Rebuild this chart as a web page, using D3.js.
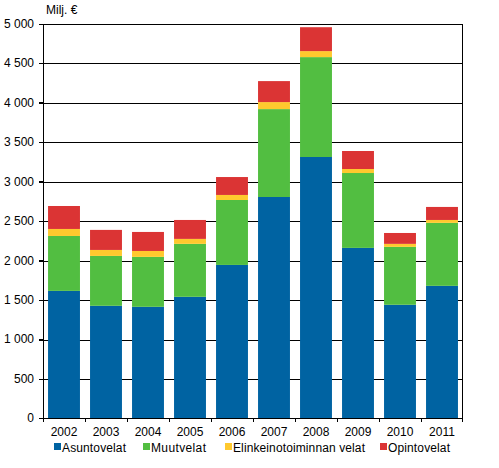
<!DOCTYPE html>
<html>
<head>
<meta charset="utf-8">
<script src="https://cdn.jsdelivr.net/npm/d3@7"></script>
<style>
  body { margin: 0; background: #fff; }
  text { font-family: "Liberation Sans", Arial, sans-serif; font-size: 12px; fill: #000; }
  line { shape-rendering: crispEdges; }
</style>
</head>
<body>
<div id="chart"></div>
<script>
// data (Milj. €)
var years = ["2002", "2003", "2004", "2005", "2006", "2007", "2008", "2009", "2010", "2011"];
var asuntovelat = [1611, 1422, 1409, 1536, 1940, 2801, 3308, 2156, 1435, 1675];
var muutvelat = [696, 632, 633, 671, 823, 1114, 1266, 949, 734, 798];
var elinkeinovelat = [89, 76, 75, 63, 64, 89, 76, 51, 38, 37];
var opintovelat = [291, 254, 241, 240, 227, 266, 303, 228, 138, 165];
var seriesNames = ["Asuntovelat", "Muutvelat", "Elinkeinotoiminnan velat", "Opintovelat"];
var yTicks = [0, 500, 1000, 1500, 2000, 2500, 3000, 3500, 4000, 4500, 5000];

var colors = ["#0063a2", "#52be41", "#ffc92e", "#db3434"];

var svgWidth = 499, svgHeight = 468;
var margin = {top: 23.5, right: 36, bottom: 50, left: 43};
var width = svgWidth - margin.left - margin.right;
var height = svgHeight - margin.top - margin.bottom;

var svg = d3.select("#chart").append("svg")
  .attr("width", svgWidth)
  .attr("height", svgHeight);

var chartGroup = svg.append("g")
  .attr("transform", `translate(${margin.left}, ${margin.top})`);

// build rows for the stack
var keys = ["a", "m", "e", "o"];
var rows = years.map(function(y, i) {
  return {year: y, a: asuntovelat[i], m: muutvelat[i], e: elinkeinovelat[i], o: opintovelat[i]};
});
var stacked = d3.stack().keys(keys)(rows);

var x = d3.scaleBand().domain(years).range([0, width]).paddingInner(0.24).paddingOuter(0.12);
var y = d3.scaleLinear().domain([0, 5000]).range([height, 0]);

var fi = d3.formatLocale({decimal: ",", thousands: "\u00a0", grouping: [3], currency: ["", " €"]});
var fmt = fi.format(",d");

// grid lines
chartGroup.append("g")
  .selectAll("line")
  .data(yTicks.filter(d => d > 0))
  .enter()
  .append("line")
  .attr("x1", -4)
  .attr("x2", width)
  .attr("y1", d => Math.round(y(d)) + 0.5)
  .attr("y2", d => Math.round(y(d)) + 0.5)
  .attr("stroke", "#000")
  .attr("stroke-width", 1);

// bars
chartGroup.selectAll(".series")
  .data(stacked)
  .enter()
  .append("g")
  .attr("fill", (d, i) => colors[i])
  .selectAll("rect")
  .data(d => d)
  .enter()
  .append("rect")
  .attr("x", d => x(d.data.year))
  .attr("width", x.bandwidth())
  .attr("y", d => y(d[1]))
  .attr("height", d => y(d[0]) - y(d[1]));

// y axis
var yAxis = chartGroup.append("g")
  .call(d3.axisLeft(y).tickValues(yTicks).tickFormat(fmt).tickSize(4).tickPadding(5));
yAxis.select(".domain").remove();
yAxis.selectAll("line").attr("stroke", "#000");
yAxis.selectAll("text").style("font-size", "12px").style("font-family", "'Liberation Sans', Arial, sans-serif");

// left and right frame lines
chartGroup.append("line")
  .attr("x1", 0.5).attr("x2", 0.5)
  .attr("y1", 0).attr("y2", height)
  .attr("stroke", "#000");
chartGroup.append("line")
  .attr("x1", width - 0.5).attr("x2", width - 0.5)
  .attr("y1", 0).attr("y2", height)
  .attr("stroke", "#000");

// x axis: ticks at band boundaries
var xg = chartGroup.append("g").attr("transform", `translate(0, ${height})`);
xg.append("line")
  .attr("x1", 0).attr("x2", width)
  .attr("y1", 0.5).attr("y2", 0.5)
  .attr("stroke", "#000");
var bounds = d3.range(years.length + 1).map(i => Math.round(i * width / years.length));
xg.selectAll(".xt")
  .data(bounds)
  .enter()
  .append("line")
  .attr("x1", d => Math.min(d, width - 1) + 0.5)
  .attr("x2", d => Math.min(d, width - 1) + 0.5)
  .attr("y1", 0).attr("y2", 4)
  .attr("stroke", "#000");
xg.selectAll(".xl")
  .data(years)
  .enter()
  .append("text")
  .attr("x", d => x(d) + x.bandwidth() / 2)
  .attr("y", 18)
  .attr("text-anchor", "middle")
  .text(d => d);

// unit label
svg.append("text")
  .attr("x", 46)
  .attr("y", 14)
  .text("Milj. €");

// legend
var legendX = [54, 143, 225, 380];
var legend = svg.append("g").attr("transform", "translate(0, 448)");
seriesNames.forEach(function(name, i) {
  legend.append("rect")
    .attr("x", legendX[i])
    .attr("y", -5)
    .attr("width", 7)
    .attr("height", 7)
    .attr("fill", colors[i]);
  legend.append("text")
    .attr("x", legendX[i] + 8)
    .attr("y", 4)
    .attr("textLength", [64, 55, 132, 62][i])
    .text(name);
});
</script>
</body>
</html>
